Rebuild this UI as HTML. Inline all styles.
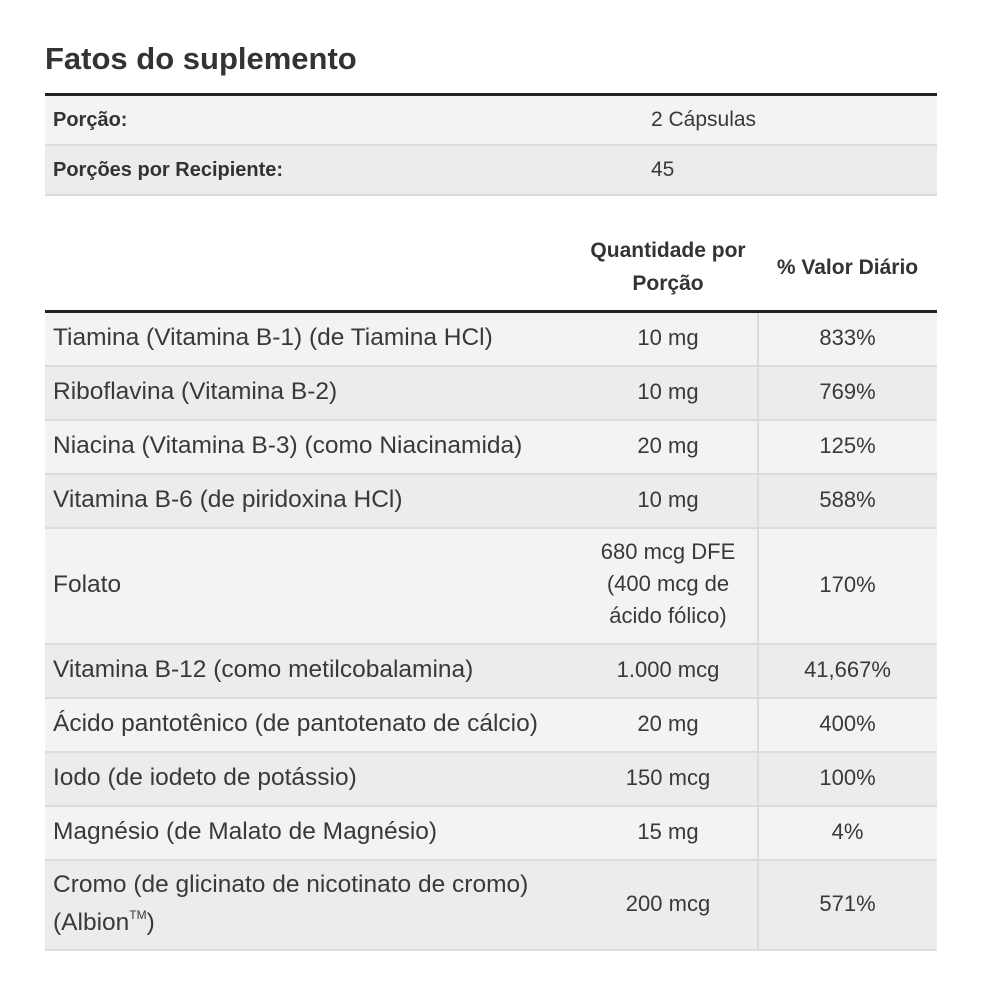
<!DOCTYPE html>
<html>
<head>
<meta charset="utf-8">
<style>
  html, body { margin:0; padding:0; background:#fff; }
  body { width:982px; height:997px; position:relative; overflow:hidden;
         font-family:"Liberation Sans", Arial, sans-serif; color:#393939; }
  .abs { position:absolute; }
  .title { left:45px; top:43px; font-size:31px; line-height:31px; font-weight:bold; color:#333; white-space:nowrap; }
  .thick { left:45px; width:892px; height:3px; background:#222; }
  .row { position:absolute; left:45px; width:892px; border-bottom:2px solid #dcdcdc; }
  .light { background:#f3f3f3; }
  .dark { background:#ececec; }
  .lab { position:absolute; left:8px; font-size:20px; font-weight:bold; white-space:nowrap; color:#333; }
  .val { position:absolute; left:606px; font-size:21px; white-space:nowrap; }
  .c1 { position:absolute; left:8px; top:0; bottom:0; display:flex; align-items:center; font-size:24.5px; white-space:nowrap; padding-bottom:3px; box-sizing:border-box; }
  .c2 { position:absolute; left:533px; width:180px; top:0; bottom:0; display:flex; align-items:center; justify-content:center; text-align:center; font-size:22px; white-space:nowrap; padding-bottom:2px; box-sizing:border-box; }
  .c3 { position:absolute; left:713px; width:179px; top:0; bottom:0; display:flex; align-items:center; justify-content:center; text-align:center; font-size:22px; white-space:nowrap; padding-bottom:2px; box-sizing:border-box; }
  .hdr { position:absolute; font-size:21px; font-weight:bold; line-height:33px; text-align:center; color:#333; white-space:nowrap; }
  .vdiv { left:757px; top:313px; width:2px; height:638px; background:#dcdcdc; }
</style>
</head>
<body>
  <div class="abs title">Fatos do suplemento</div>

  <div class="abs thick" style="top:93px;"></div>
  <div class="row light" style="top:96px;height:48px;">
    <div class="lab" style="top:14px;line-height:20px;">Porção:</div>
    <div class="val" style="top:13px;line-height:22px;">2 Cápsulas</div>
  </div>
  <div class="row dark" style="top:146px;height:48px;">
    <div class="lab" style="top:14px;line-height:20px;">Porções por Recipiente:</div>
    <div class="val" style="top:13px;line-height:22px;">45</div>
  </div>

  <div class="hdr" style="left:578px;width:180px;top:234px;">Quantidade por<br>Porção</div>
  <div class="hdr" style="left:758px;width:179px;top:251px;">% Valor Diário</div>

  <div class="abs thick" style="top:310px;"></div>

  <div class="row light" style="top:313px;height:52px;">
    <div class="c1">Tiamina (Vitamina B-1) (de Tiamina HCl)</div>
    <div class="c2">10 mg</div>
    <div class="c3">833%</div>
  </div>
  <div class="row dark" style="top:367px;height:52px;">
    <div class="c1">Riboflavina (Vitamina B-2)</div>
    <div class="c2">10 mg</div>
    <div class="c3">769%</div>
  </div>
  <div class="row light" style="top:421px;height:52px;">
    <div class="c1">Niacina (Vitamina B-3) (como Niacinamida)</div>
    <div class="c2">20 mg</div>
    <div class="c3">125%</div>
  </div>
  <div class="row dark" style="top:475px;height:52px;">
    <div class="c1">Vitamina B-6 (de piridoxina HCl)</div>
    <div class="c2">10 mg</div>
    <div class="c3">588%</div>
  </div>
  <div class="row light" style="top:529px;height:114px;">
    <div class="c1">Folato</div>
    <div style="position:absolute;left:533px;width:180px;top:7px;text-align:center;font-size:22px;line-height:32px;">680 mcg DFE<br>(400 mcg de<br>ácido fólico)</div>
    <div class="c3">170%</div>
  </div>
  <div class="row dark" style="top:645px;height:52px;">
    <div class="c1">Vitamina B-12 (como metilcobalamina)</div>
    <div class="c2">1.000 mcg</div>
    <div class="c3">41,667%</div>
  </div>
  <div class="row light" style="top:699px;height:52px;">
    <div class="c1">Ácido pantotênico (de pantotenato de cálcio)</div>
    <div class="c2">20 mg</div>
    <div class="c3">400%</div>
  </div>
  <div class="row dark" style="top:753px;height:52px;">
    <div class="c1">Iodo (de iodeto de potássio)</div>
    <div class="c2">150 mcg</div>
    <div class="c3">100%</div>
  </div>
  <div class="row light" style="top:807px;height:52px;">
    <div class="c1">Magnésio (de Malato de Magnésio)</div>
    <div class="c2">15 mg</div>
    <div class="c3">4%</div>
  </div>
  <div class="row dark" style="top:861px;height:88px;">
    <div style="position:absolute;left:8px;top:5px;font-size:24.5px;line-height:38px;white-space:nowrap;">Cromo (de glicinato de nicotinato de cromo)<br>(Albion<sup style="font-size:12px;line-height:0;vertical-align:11px;">TM</sup>)</div>
    <div class="c2">200 mcg</div>
    <div class="c3">571%</div>
  </div>

  <div class="abs vdiv"></div>
</body>
</html>
